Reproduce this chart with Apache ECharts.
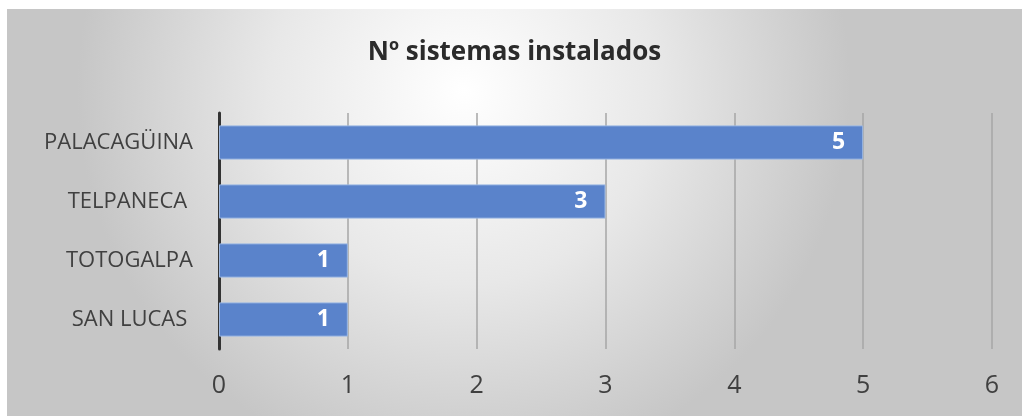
<!DOCTYPE html>
<html>
<head>
<meta charset="utf-8">
<script src="https://cdn.jsdelivr.net/npm/echarts@6/dist/echarts.min.js"></script>
<style>
  html, body { margin: 0; padding: 0; background: #fff; }
  #chart { position: absolute; left: 7px; top: 9px; width: 1015px; height: 407px; }
</style>
</head>
<body>
<div id="chart"></div>
<script>
// datos (orden de abajo hacia arriba)
const municipios = ['SAN LUCAS ', 'TOTOGALPA', 'TELPANECA ', 'PALACAGÜINA']
const sistemas = [1, 1, 3, 5]
const tituloTexto = 'Nº sistemas instalados'

const fuente = 'Open Sans'
const chart = echarts.init(document.getElementById('chart'))
const option = {
  backgroundColor: {
    type: 'radial',
    x: 0.45,
    y: 0.2,
    r: 0.95,
    colorStops: [
      { offset: 0, color: '#ffffff' },
      { offset: 0.5, color: '#e8e8e8' },
      { offset: 1, color: '#c6c6c6' }
    ]
  },
  title: {
    text: tituloTexto,
    left: 'center',
    top: 26,
    textStyle: {
      fontFamily: fuente,
      fontSize: 26,
      fontWeight: 'bold',
      color: '#2b2b2b'
    }
  },
  grid: {
    left: 212,
    right: 30,
    top: 104,
    bottom: 67
  },
  xAxis: {
    type: 'value',
    min: 0,
    max: 6,
    interval: 1,
    axisLine: { show: false },
    axisTick: { show: false },
    axisLabel: {
      margin: 24,
      fontFamily: fuente,
      fontSize: 25,
      color: '#404040'
    },
    splitLine: {
      lineStyle: { color: '#a6a6a6', width: 1.5 }
    }
  },
  yAxis: {
    type: 'category',
    data: municipios,
    axisTick: { show: false },
    axisLine: {
      show: true,
      lineStyle: { color: '#333333', width: 3 }
    },
    axisLabel: {
      margin: 26,
      fontFamily: fuente,
      fontSize: 22,
      color: '#404040'
    }
  },
  series: [
    {
      type: 'bar',
      data: sistemas,
      barCategoryGap: '42%',
      itemStyle: {
        color: '#5a83cb',
        borderColor: '#9bb7e3',
        borderWidth: 1
      },
      label: {
        show: true,
        position: 'insideRight',
        distance: 18,
        fontFamily: fuente,
        fontSize: 23,
        fontWeight: 'bold',
        color: '#ffffff'
      }
    }
  ]
}
chart.setOption(option)
</script>
</body>
</html>
